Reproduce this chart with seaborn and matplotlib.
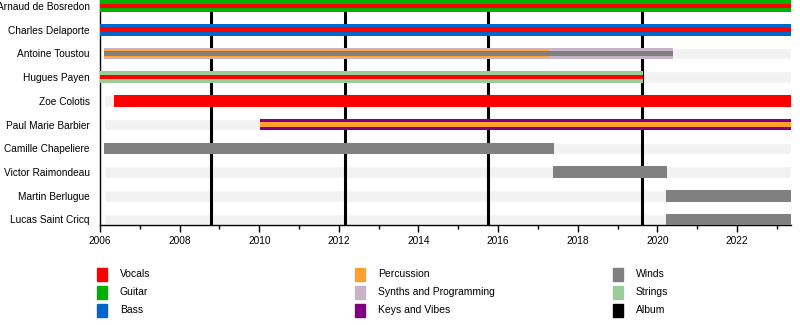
import matplotlib
matplotlib.use("Agg")
import matplotlib.pyplot as plt
from matplotlib.patches import Rectangle
import seaborn as sns
import pandas as pd

# Band members, top to bottom
members = [
    "Arnaud de Bosredon", "Charles Delaporte", "Antoine Toustou", "Hugues Payen",
    "Zoe Colotis", "Paul Marie Barbier", "Camille Chapeliere", "Victor Raimondeau",
    "Martin Berlugue", "Lucas Saint Cricq",
]

# Roles and their colours (legend order: column by column)
roles = ["Vocals", "Guitar", "Bass", "Percussion", "Synths and Programming",
         "Keys and Vibes", "Winds", "Strings", "Album"]
role_colors = ["#ff0000", "#00b000", "#0066cc", "#ffa030", "#c8b4c8",
               "#800080", "#808080", "#99cc99", "#000000"]

START = 2006.0
END = 2023.35

# Membership spans: member, role, start, end, layer
span_member = [
    "Arnaud de Bosredon", "Arnaud de Bosredon",
    "Charles Delaporte", "Charles Delaporte",
    "Antoine Toustou", "Antoine Toustou", "Antoine Toustou",
    "Hugues Payen", "Hugues Payen",
    "Zoe Colotis",
    "Paul Marie Barbier", "Paul Marie Barbier",
    "Camille Chapeliere", "Victor Raimondeau",
    "Martin Berlugue", "Lucas Saint Cricq",
]
span_role = [
    "Guitar", "Vocals",
    "Bass", "Vocals",
    "Synths and Programming", "Percussion", "Winds",
    "Strings", "Vocals",
    "Vocals",
    "Keys and Vibes", "Percussion",
    "Winds", "Winds",
    "Winds", "Winds",
]
span_start = [
    2006.0, 2006.0,
    2006.0, 2006.0,
    2006.09, 2006.09, 2006.09,
    2006.0, 2006.0,
    2006.36,
    2010.03, 2010.03,
    2006.09, 2017.39,
    2020.22, 2020.22,
]
span_end = [
    END, END,
    END, END,
    2020.39, 2017.28, 2020.39,
    2019.64, 2019.64,
    END,
    END, END,
    2017.41, 2020.23,
    END, END,
]
span_layer = [
    "outer", "inner",
    "outer", "inner",
    "outer", "mid", "inner",
    "outer", "inner",
    "outer",
    "outer", "inner",
    "outer", "outer",
    "outer", "outer",
]

# Album releases
albums = [2008.80, 2012.16, 2015.75, 2019.62]

spans = pd.DataFrame({
    "member": span_member, "role": span_role,
    "start": span_start, "end": span_end, "layer": span_layer,
})
color_of = dict(zip(roles, role_colors))
row_of = {m: i for i, m in enumerate(members)}
layer_height = {"outer": 0.49, "mid": 0.33, "inner": 0.19}
layer_z = {"outer": 3, "mid": 4, "inner": 5}

sns.set_theme(style="white")
plt.rcParams["font.family"] = ["Liberation Sans", "DejaVu Sans"]
plt.rcParams["text.color"] = "black"
plt.rcParams["xtick.color"] = "black"
plt.rcParams["ytick.color"] = "black"

fig = plt.figure(figsize=(8, 3.25), dpi=100)
ax = fig.add_axes([0.125, 1 - 225 / 325, 0.8634, 225 / 325])

# Light background strip for every member row
ax.barh(range(len(members)), [END - 2006.09] * len(members), left=2006.09,
        height=0.485, color="#f2f2f2", zorder=1)

# Album release lines sit behind the member bars
for a in albums:
    ax.axvline(a, color="black", lw=2.2, zorder=2)

for _, s in spans.iterrows():
    ax.barh(row_of[s.member], s.end - s.start, left=s.start,
            height=layer_height[s.layer], color=color_of[s.role],
            zorder=layer_z[s.layer], linewidth=0)

ax.set_xlim(START, END)
ax.set_ylim(9.232, -0.253)
ax.set_yticks(range(len(members)))
ax.set_yticklabels(members, fontsize=7.3, color="black")
ax.set_xticks(range(2006, 2024, 2))
ax.set_xticks(range(2007, 2024, 2), minor=True)
ax.tick_params(axis="x", which="major", direction="out", length=5, width=1,
               color="black", labelcolor="black", labelsize=7.3, pad=3, bottom=True)
ax.tick_params(axis="x", which="minor", direction="out", length=3, width=1,
               color="black", bottom=True)
ax.tick_params(axis="y", length=0, pad=7.3, labelcolor="black")
sns.despine(ax=ax, top=True, right=True)
for side in ("left", "bottom"):
    ax.spines[side].set_color("black")
    ax.spines[side].set_linewidth(1)
ax.grid(False)

# Legend laid out in three columns
col_x = [97, 355, 613]
row_y = [274, 292, 310]
for i, (r, c) in enumerate(zip(roles, role_colors)):
    x = col_x[i // 3]
    y = row_y[i % 3]
    fig.add_artist(Rectangle((x / 800, 1 - (y + 6.5) / 325), 10 / 800, 13 / 325,
                             transform=fig.transFigure, color=c))
    fig.text((x + 23) / 800, 1 - y / 325, r, fontsize=7.5, va="center", ha="left",
             color="black")

fig.savefig("out.png", dpi=100)
